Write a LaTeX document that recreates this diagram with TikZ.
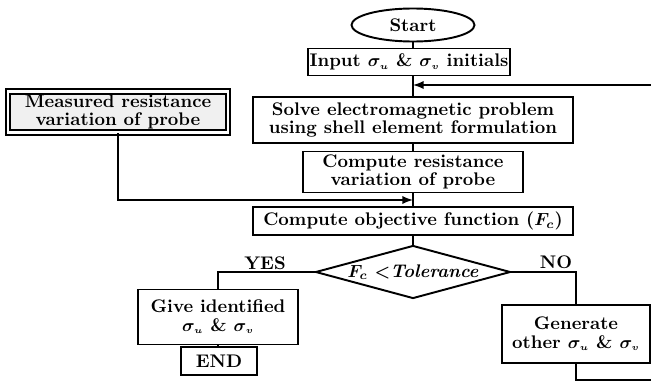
\documentclass[tikz,border=0pt]{standalone}
\usepackage{amsmath}
\usetikzlibrary{shapes.geometric}

\newcommand{\su}{\ensuremath{\sigma_{\scriptscriptstyle u}}}
\newcommand{\sv}{\ensuremath{\sigma_{\scriptscriptstyle v}}}

\tikzset{
  box/.style = {rectangle, draw, line width=1.1pt, fill=white, align=center, inner sep=1pt},
  decision/.style = {diamond, draw, line width=1.1pt, inner sep=0pt, aspect=3.68, fill=white},
}

\begin{document}
\begin{tikzpicture}[x=0.02cm, y=-0.02cm, line width=1.1pt]
  \useasboundingbox (0,0) rectangle (651,382);
  \begin{scope}[every node/.style = {font=\fontsize{10.4}{10.4}\selectfont\bfseries\boldmath}]
    \node[ellipse, draw, line width=1.1pt, minimum width=2.46cm, minimum height=0.66cm, inner sep=0pt]
      (start) at (413,25) {Start};
    \node[box, minimum width=3.86cm, minimum height=0.54cm] (input) at (409,62)
      {Input \su{} \& \sv{} initials};
    \node[box, minimum width=6.4cm, minimum height=0.92cm] (solve) at (413,120)
      {Solve electromagnetic problem\\using shell element formulation};
    \node[box, double, double distance=1.4pt, fill=gray!12, minimum width=4.4cm, minimum height=0.82cm]
      (meas) at (118,112) {Measured resistance\\variation of probe};
    \node[box, minimum width=4.4cm, minimum height=0.82cm] (resist) at (413,172)
      {Compute resistance\\variation of probe};
    \node[box, minimum width=6.4cm, minimum height=0.56cm] (obj) at (413,221)
      {Compute objective function ($F_c$)};
    \node[decision, minimum width=3.9cm, minimum height=1.06cm] (test) at (413,272)
      {$F_c$ $<$\textit{Tolerance}};
    \node[box, minimum width=3.2cm, minimum height=1.1cm] (give) at (218,317)
      {Give identified\\\su{} \& \sv{}};
    \node[box, minimum width=1.52cm, minimum height=0.56cm] (fin) at (219,361) {END};
    \node[box, minimum width=2.96cm, minimum height=1.16cm] (gen) at (576,334)
      {Generate\\other \su{} \& \sv{}};
    \node (yes) at (265,263) {YES};
    \node (no) at (556,262) {NO};
  \end{scope}

  \coordinate (fb) at (413,85);
  \coordinate (merge) at (413,200);
  \coordinate (loopB) at (668,380);
  \coordinate (loopR) at (668,85);

  \begin{scope}[every edge/.style = {-, draw, line width=1.1pt}]
    \path (start) edge[] (start |- input.north);
    \path (input.south -| solve) edge[] (solve);
    \path (solve) edge[] (resist);
    \path (resist) edge[] (obj);
    \path (obj) edge[] (test);
    \path (give) edge[] (give |- fin.north);
  \end{scope}

  \draw[-latex] (meas.south) |- (merge);
  \draw (test.west) -| (give.north);
  \draw (test.east) -| (gen.north);
  \draw[-latex] (gen.south) |- (loopB) -- (loopR) -- (fb);
\end{tikzpicture}
\end{document}
